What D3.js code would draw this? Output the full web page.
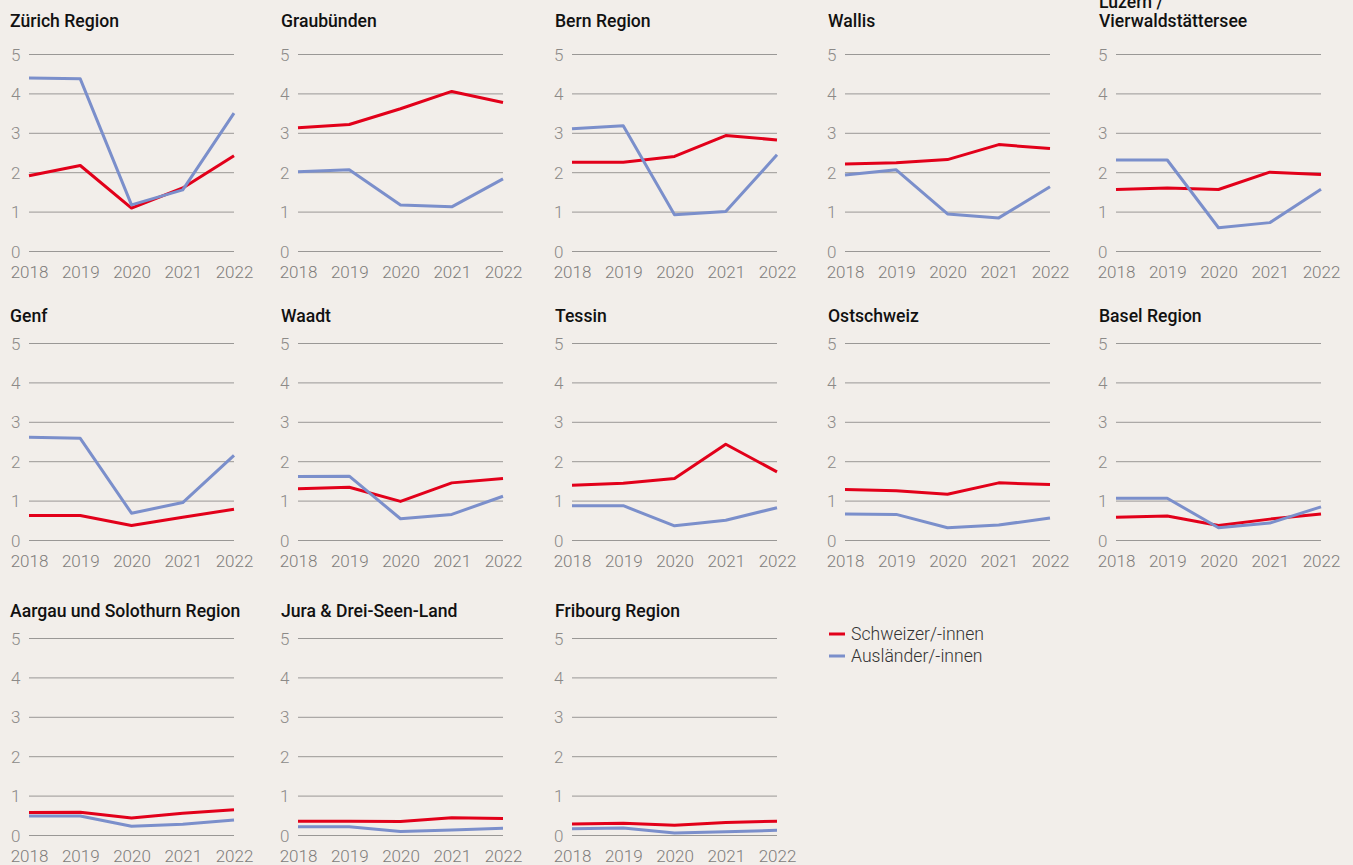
<!DOCTYPE html>
<html><head><meta charset="utf-8">
<script src="https://cdn.jsdelivr.net/npm/d3@7"></script>
<style>
html,body{margin:0;padding:0;background:#f2eeea;}
svg{display:block;}
</style></head>
<body>
<svg id="c" width="1353" height="865"></svg>
<script>
const years = ["2018","2019","2020","2021","2022"];
const yTicks = [0,1,2,3,4,5];
const regions = ["Zürich Region","Graubünden","Bern Region","Wallis","Luzern /\nVierwaldstättersee",
  "Genf","Waadt","Tessin","Ostschweiz","Basel Region",
  "Aargau und Solothurn Region","Jura & Drei-Seen-Land","Fribourg Region"];
const schweizer = [
  [1.91,2.17,1.09,1.60,2.42],
  [3.13,3.21,3.61,4.05,3.77],
  [2.25,2.25,2.40,2.93,2.82],
  [2.21,2.24,2.32,2.70,2.60],
  [1.56,1.60,1.56,2.00,1.94],
  [0.62,0.62,0.37,0.58,0.78],
  [1.30,1.34,0.98,1.45,1.56],
  [1.39,1.44,1.56,2.43,1.73],
  [1.28,1.25,1.16,1.45,1.41],
  [0.58,0.61,0.37,0.53,0.66],
  [0.57,0.58,0.43,0.55,0.64],
  [0.35,0.35,0.34,0.44,0.42],
  [0.28,0.30,0.25,0.32,0.35]
];
const auslaender = [
  [4.39,4.37,1.17,1.55,3.50],
  [2.01,2.06,1.17,1.12,1.83],
  [3.10,3.18,0.92,1.00,2.44],
  [1.93,2.06,0.94,0.84,1.63],
  [2.31,2.31,0.59,0.72,1.57],
  [2.61,2.58,0.68,0.95,2.15],
  [1.61,1.62,0.54,0.65,1.11],
  [0.87,0.87,0.36,0.50,0.82],
  [0.66,0.65,0.31,0.38,0.56],
  [1.06,1.06,0.31,0.43,0.84],
  [0.48,0.48,0.22,0.27,0.38],
  [0.21,0.21,0.09,0.13,0.17],
  [0.16,0.18,0.05,0.08,0.12]
];
const seriesNames = ["Schweizer/-innen","Ausländer/-innen"];
const seriesColors = ["#e2001a","#7b8fcb"];

// layout
const colX = [29, 298, 572, 845, 1116];
const rowTop = [54, 343, 638];
const gridW = 205, gridH = 197;
const titleBase = [27, 322, 617];

const svg = d3.select("#c");
const font = "Roboto, 'Noto Sans', sans-serif";

regions.forEach((name, i) => {
  const col = i % 5, row = Math.floor(i / 5);
  const x0 = colX[col], y0 = rowTop[row];
  const g = svg.append("g").attr("transform", `translate(${x0},${y0})`);
  const x = d3.scalePoint().domain(years).range([0, gridW]);
  const y = d3.scaleLinear().domain([0,5]).range([gridH, 0]);

  const ya = d3.axisLeft(y).tickValues(yTicks).tickSize(-gridW).tickPadding(9).tickFormat(d3.format("d"));
  const yg = g.append("g").call(ya);
  yg.select(".domain").remove();
  yg.selectAll(".tick line").attr("stroke", "#9a9896").attr("stroke-width", 1);
  yg.selectAll(".tick text").attr("fill", "#8c8a88").style("font-family", font)
    .style("font-size", "17px").style("font-weight", 300).attr("text-anchor","start")
    .attr("x", -18).attr("dy", "0.36em");

  const xa = d3.axisBottom(x).tickSize(0).tickPadding(15);
  const xg = g.append("g").attr("transform", `translate(0,${gridH})`).call(xa);
  xg.select(".domain").remove();
  xg.selectAll(".tick text").attr("fill", "#7e7c7a").style("font-family", font)
    .style("font-size", "17px").style("font-weight", 300);

  const line = d3.line().x((d, j) => x(years[j])).y(d => y(d));
  [schweizer[i], auslaender[i]].forEach((vals, s) => {
    g.append("path").datum(vals).attr("d", line).attr("fill", "none")
      .attr("stroke", seriesColors[s]).attr("stroke-width", 3).attr("stroke-linejoin","round");
  });

  const lines = name.split("\n");
  const tx = col === 0 ? 10 : x0 - 17;
  const t = svg.append("text").attr("x", tx).attr("y", titleBase[row] - (lines.length - 1) * 19)
    .style("font-family", font).style("font-size", "17.6px").style("font-weight", 500).attr("fill", "#111");
  lines.forEach((l, k) => t.append("tspan").attr("x", tx).attr("dy", k === 0 ? 0 : 19).text(l));
});

const leg = svg.append("g").attr("transform", "translate(829,634)");
seriesNames.forEach((n, s) => {
  const lg = leg.append("g").attr("transform", `translate(0,${s * 22})`);
  lg.append("line").attr("x1", 0).attr("x2", 16).attr("y1", 0).attr("y2", 0)
    .attr("stroke", seriesColors[s]).attr("stroke-width", 3);
  lg.append("text").attr("x", 22).attr("dy", "0.36em").text(n)
    .style("font-family", font).style("font-size", "17.6px").style("font-weight", 300).attr("fill", "#333");
});
</script>
</body></html>
